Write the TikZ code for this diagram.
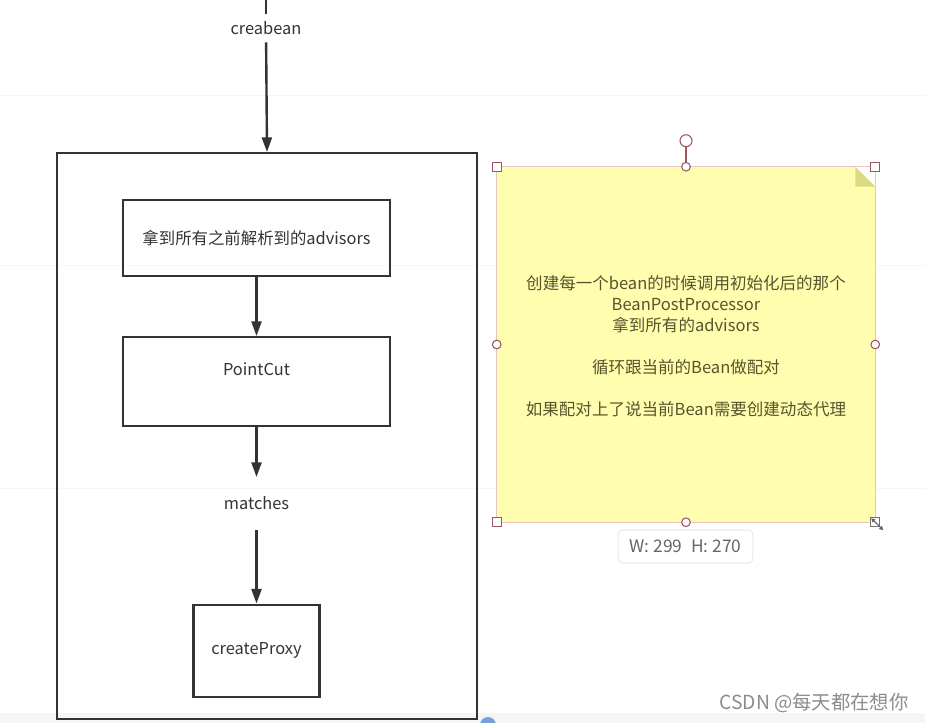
\documentclass[tikz,border=0pt]{standalone}
\usepackage{fontspec}
\setmainfont{Noto Sans CJK SC}
\usetikzlibrary{positioning,arrows.meta}
\definecolor{ink}{HTML}{333333}
\definecolor{note}{HTML}{FFFDAE}
\definecolor{noteedge}{HTML}{E8C4C4}
\definecolor{fold}{HTML}{DBDA82}
\definecolor{handle}{HTML}{9E5560}
\definecolor{notetext}{HTML}{57542E}
\definecolor{gridline}{HTML}{F6F6F6}
\begin{document}
\begin{tikzpicture}[x=0.75pt, y=-0.75pt,
  font=\fontsize{12.3}{15}\selectfont, >={Triangle[length=11pt,width=7.5pt]},
  stage/.style={draw=ink, line width=1.5pt, text=ink, inner sep=0pt, minimum width=200.25pt},
  frame/.style={draw=ink, line width=1.5pt, inner sep=0pt,
                minimum width=315pt, minimum height=424.5pt},
  flow/.style={->, draw=ink, line width=1.8pt},
  tag/.style={text=ink, inner sep=0pt},
  memo/.style={text=notetext, align=center, inner sep=0pt,
               minimum width=283.5pt, minimum height=266.25pt,
               font=\fontsize{12.4}{15.75}\selectfont},
  grip/.style={draw=handle, fill=white, line width=0.8pt, minimum size=6.5pt, inner sep=0pt},
  knob/.style={grip, circle}]

\useasboundingbox (0,0) rectangle (925,723);
\fill[white] (0,0) rectangle (925,723);
\foreach \gy in {95,265,488} \draw[gridline] (0,\gy) -- (925,\gy);
\fill[black!4] (0,713) rectangle (925,723);

% left flow
\node (frame) [frame] at (267,436) {};
\coordinate (top) at (266,0);
\node (cb) [tag, fill=white, minimum height=21pt, inner xsep=3pt] at (266,28) {creabean};
\draw[ink, line width=1.8pt] (top) -- (cb);
\draw[flow] (cb) -- (frame.north);

\node (advs) [stage, minimum height=57pt] at (256.5,238) {拿到所有之前解析到的advisors};
\node (pc) [stage, minimum height=66.75pt, text depth=18pt, below=44.25pt of advs] {PointCut};
\node (mt) [tag, minimum height=39pt, below=37.5pt of pc] {matches};
\node (proxy) [stage, line width=2pt, minimum width=94.5pt, minimum height=69pt,
               below=55.5pt of mt] {createProxy};
\foreach \a/\b in {advs/pc, pc/mt, mt/proxy} \draw[flow] (\a) -- (\b);

% sticky note
\node (memo) [memo] at (686,344.5) {};
\fill[note] (memo.north west) -- ([xshift=-15pt]memo.north east)
  -- ([yshift=-15pt]memo.north east) -- (memo.south east) -- (memo.south west) -- cycle;
\fill[fold] ([xshift=-15pt]memo.north east) -- ([xshift=-15pt,yshift=-15pt]memo.north east)
  -- ([yshift=-15pt]memo.north east) -- cycle;
\draw[noteedge, line width=0.8pt] (memo.north west) rectangle (memo.south east);
\node (memotext) [memo] at ([yshift=-1.2pt]memo.center)
  {创建每一个bean的时候调用初始化后的那个\\BeanPostProcessor\\拿到所有的advisors\\[15.75pt]
   循环跟当前的Bean做配对\\[15.75pt]如果配对上了说当前Bean需要创建动态代理};

% selection handles
\node (rot) [knob, minimum size=9pt] at ([yshift=19.5pt]memo.north) {};
\node (hn) [knob] at (memo.north) {};
\draw[handle, line width=0.8pt] (rot) -- (hn);
\node (hw) [knob] at (memo.west) {};
\node (he) [knob] at (memo.east) {};
\node (hs) [knob] at (memo.south) {};
\node (hnw) [grip] at (memo.north west) {};
\node (hne) [grip] at (memo.north east) {};
\node (hsw) [grip] at (memo.south west) {};
\node (hse) [grip, draw=ink!70] at (memo.south east) {};
\draw[{Triangle[open,length=3pt,width=3pt]}-{Triangle[open,length=3pt,width=3pt]}, ink!80, line width=0.8pt]
  ([shift={(-3pt,3pt)}]hse.center) -- ([shift={(6pt,-6pt)}]hse.center);

\node (dims) [draw=black!15, rounded corners=3pt, text=black!60, minimum width=101pt,
              minimum height=24.75pt, font=\fontsize{13}{15}\selectfont] at (685.5,546.5)
  {W: 299\enspace H: 270};

\node (mark) [text=black!45, font=\fontsize{14.5}{16}\selectfont] at (814,703) {CSDN @每天都在想你};
\fill[cyan!50!blue!55] (488,725) circle[radius=6pt];
\end{tikzpicture}
\end{document}
